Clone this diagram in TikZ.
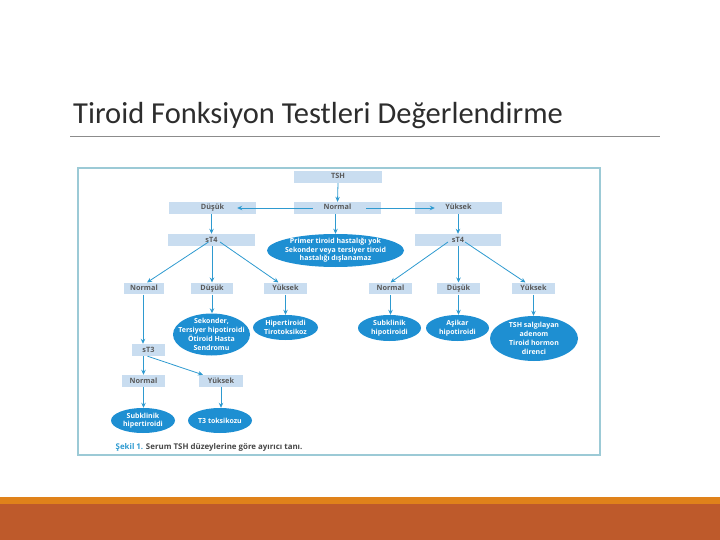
\documentclass[tikz,border=0pt]{standalone}
\usepackage{fontspec}
\setmainfont{Open Sans}
\newfontfamily\titlefont{Carlito}
\usetikzlibrary{shapes.geometric,arrows.meta,calc}
\definecolor{boxblue}{RGB}{201,221,240}
\definecolor{ellblue}{RGB}{30,143,210}
\definecolor{arrblue}{RGB}{46,154,208}
\definecolor{framec}{RGB}{156,202,214}
\definecolor{titlec}{RGB}{45,45,45}
\definecolor{linec}{RGB}{140,140,140}
\definecolor{stripc}{RGB}{224,130,26}
\definecolor{rustc}{RGB}{190,90,43}
\definecolor{txtc}{RGB}{90,90,90}
\definecolor{captc}{RGB}{70,70,70}
\begin{document}
\begin{tikzpicture}[x=1pt,y=-1pt,
  bx/.style={fill=boxblue, inner sep=0pt, minimum height=12pt, text height=5.4pt, text depth=1.4pt, font=\fontsize{7.3}{9}\selectfont\bfseries, text=txtc},
  el/.style={ellipse, fill=ellblue, inner sep=0pt},
  eltxt/.style={inner sep=0pt, align=center, text=white, font=\fontsize{7}{8.6}\selectfont\bfseries},
  eltxtb/.style={eltxt, font=\fontsize{7}{9.2}\selectfont\bfseries},
  arr/.style={draw=arrblue, line width=0.8pt, -{Stealth[length=5pt,width=4.5pt]}}
]
\useasboundingbox (0,0) rectangle (720,540);
% background bars
\fill[stripc] (0,497) rectangle (720,504);
\fill[rustc] (0,504) rectangle (720,540);
% title
\node[anchor=base west, inner sep=0pt, text=titlec, font=\titlefont\fontsize{30.5}{32}\selectfont] (title) at (73,123.5) {Tiroid Fonksiyon Testleri Değerlendirme};
\draw[linec, line width=0.8pt] (70,136.5) -- (660,136.5);
% frame
\draw[framec, line width=1.3pt] (78,168) rectangle (600,455);
% boxes
\node[bx, minimum width=88pt] (tsh) at (338,177) {TSH};
\node[bx, minimum width=87pt] (nor) at (337.5,208) {Normal};
\node[bx, minimum width=87pt] (dus) at (212.5,208) {Düşük};
\node[bx, minimum width=87pt] (yuk) at (458.5,208) {Yüksek};
\node[bx, minimum width=87pt] (s4l) at (211.5,240) {sT4};
\node[bx, minimum width=86pt] (s4r) at (458,240) {sT4};
\node[bx, minimum width=40pt, minimum height=11.6pt] (nl) at (144,288.5) {Normal};
\node[bx, minimum width=42pt, minimum height=11.6pt] (dl) at (212,288.5) {Düşük};
\node[bx, minimum width=43pt, minimum height=11.6pt] (yl) at (285.5,288.5) {Yüksek};
\node[bx, minimum width=43pt, minimum height=11.6pt] (nr) at (390.5,288.5) {Normal};
\node[bx, minimum width=43pt, minimum height=11.6pt] (dr) at (458.5,288.5) {Düşük};
\node[bx, minimum width=43pt, minimum height=11.6pt] (yr) at (533.5,288.5) {Yüksek};
\node[bx, minimum width=33pt] (s3) at (148.5,350) {sT3};
\node[bx, minimum width=43pt] (nb) at (143.5,381) {Normal};
\node[bx, minimum width=44pt] (yb) at (221,381) {Yüksek};
% ellipses
\node[el, minimum width=137pt, minimum height=33pt] (e0) at (335.5,250.5) {};
\node[eltxt] (t0) at (e0) {Primer tiroid hastalığı yok\\Sekonder veya tersiyer tiroid\\hastalığı dışlanamaz};
\node[el, minimum width=77pt, minimum height=42pt] (e1) at (211.5,334.5) {};
\node[eltxtb] (t1) at (e1) {Sekonder,\\Tersiyer hipotiroidi\\Ötiroid Hasta\\Sendromu};
\node[el, minimum width=65pt, minimum height=25pt] (e2) at (285.5,327.5) {};
\node[eltxt] (t2) at (e2) {Hipertiroidi\\Tirotoksikoz};
\node[el, minimum width=63pt, minimum height=26pt] (e3) at (389.5,328) {};
\node[eltxt] (t3) at (e3) {Subklinik\\hipotiroidi};
\node[el, minimum width=63pt, minimum height=26pt] (e4) at (457.5,328) {};
\node[eltxt] (t4) at (e4) {Aşikar\\hipotiroidi};
\node[el, minimum width=88pt, minimum height=45pt] (e5) at (534,338.5) {};
\node[eltxtb] (t5) at (e5) {TSH salgılayan\\adenom\\Tiroid hormon\\direnci};
\node[el, minimum width=64pt, minimum height=25pt] (e6) at (143,420.5) {};
\node[eltxt] (t6) at (e6) {Subklinik\\hipertiroidi};
\node[el, minimum width=64pt, minimum height=25pt] (e7) at (220,420.5) {};
\node[eltxt] (t7) at (e7) {T3 toksikozu};
% arrows
\draw[arr] (tsh.south) -- (nor.north);
\draw[arr] ($(nor.west)+(19,0)$) -- ($(dus.east)+(-19,0)$);
\draw[arr] ($(nor.east)+(-15,0)$) -- ($(yuk.west)+(20,0)$);
\draw[arr] (dus.south -| s4l.north) -- (s4l.north);
\draw[arr] (nor.south -| e0.north) -- (e0.north);
\draw[arr] (yuk.south -| s4r.north) -- (s4r.north);
\draw[arr] ($(s4l)+(-3,2)$) -- ($(nl.north)+(3,0)$);
\draw[arr] (s4l.south -| dl.north) -- (dl.north);
\draw[arr] ($(s4l)+(8.5,2)$) -- ($(yl.north)+(-7,0)$);
\draw[arr] ($(s4r)+(-10,2)$) -- (nr.north);
\draw[arr] (s4r.south -| dr.north) -- (dr.north);
\draw[arr] ($(s4r)+(7,2)$) -- ($(yr.north)+(-8,0)$);
\draw[arr] ($(nl.south)+(-1,0)$) -- ($(nl.south |- s3.north)+(-1,0)$);
\draw[arr] (dl.south) -- (dl.south |- e1.north);
\draw[arr] (yl.south) -- (yl.south |- e2.north);
\draw[arr] (nr.south) -- (nr.south |- e3.north);
\draw[arr] (dr.south) -- (dr.south |- e4.north);
\draw[arr] (yr.south) -- (yr.south |- e5.north);
\draw[arr] (s3.south -| nb.north) -- (nb.north);
\draw[arr] ($(s3.south)+(-1,0)$) -- ($(yb.north)+(-18,0)$);
\draw[arr] (nb.south) -- (nb.south |- e6.north);
\draw[arr] (yb.south) -- (yb.south |- e7.north);
% caption
\node[anchor=base west, inner sep=0pt, font=\fontsize{7.9}{9}\selectfont\bfseries, text=captc] (cap) at (115.5,449.5) {\textcolor{arrblue}{Şekil 1.} Serum TSH düzeylerine göre ayırıcı tanı.};
\end{tikzpicture}
\end{document}
